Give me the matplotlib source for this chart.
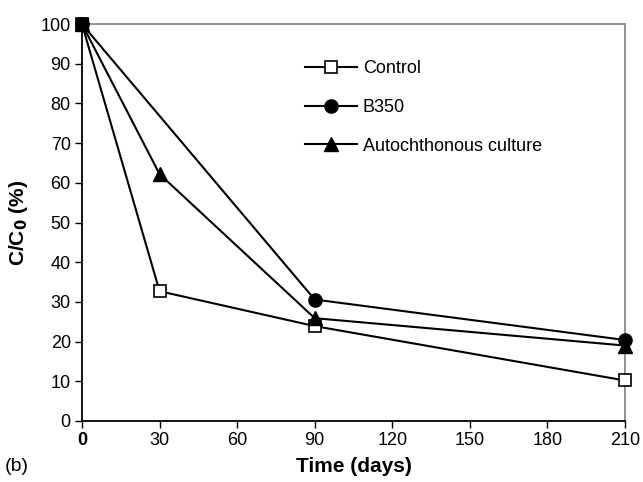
import matplotlib
matplotlib.use("Agg")
import matplotlib.pyplot as plt

plt.rcParams['font.family'] = ['Liberation Sans', 'DejaVu Sans']

days_control = [0, 30, 90, 210]
control = [100, 32.7, 23.9, 10.2]
days_b350 = [0, 90, 210]
b350 = [100, 30.6, 20.4]
days_auto = [0, 30, 90, 210]
auto = [100, 62.2, 25.9, 19.0]
xticks = [0, 30, 60, 90, 120, 150, 180, 210]
yticks = list(range(0, 101, 10))

fig = plt.figure(figsize=(6.43, 4.82), dpi=100)
ax = fig.add_axes([0.1275, 0.1266, 0.8445, 0.8234])

ax.plot(days_control, control, color='black', lw=1.5, marker='s', ms=8,
        mfc='white', mec='black', mew=1.2, label='Control', clip_on=False, zorder=3)
ax.plot(days_b350, b350, color='black', lw=1.5, marker='o', ms=9.5,
        mfc='black', mec='black', label='B350', clip_on=False, zorder=3)
ax.plot(days_auto, auto, color='black', lw=1.5, marker='^', ms=9.5,
        mfc='black', mec='black', label='Autochthonous culture', clip_on=False, zorder=3)
# filled square at origin point as seen in the reference
ax.plot([0], [100], marker='s', ms=9, color='black', clip_on=False, zorder=4)

ax.set_xlim(0, 210)
ax.set_ylim(0, 100)
ax.set_xticks(xticks)
ax.set_yticks(yticks)
ax.set_xticklabels([str(t) for t in xticks], fontsize=13)
ax.set_yticklabels([str(t) for t in yticks], fontsize=13)
ax.get_xticklabels()[0].set_fontweight('bold')
ax.tick_params(direction='out', length=5, width=1, colors='black', pad=3)

for s in ['top', 'right']:
    ax.spines[s].set_color('#888888')
    ax.spines[s].set_linewidth(1.3)
for s in ['left', 'bottom']:
    ax.spines[s].set_color('black')
    ax.spines[s].set_linewidth(1.3)

ax.set_xlabel('Time (days)', fontsize=15, fontweight='bold', labelpad=6)
ax.set_ylabel('C/C$_\\mathbf{0}$ (%)', fontsize=15, fontweight='bold', labelpad=8)

leg = ax.legend(loc='upper left', bbox_to_anchor=(0.381, 0.95), frameon=False,
                fontsize=13, handlelength=2.9, labelspacing=1.2, handletextpad=0.3)

fig.text(0.008, 0.022, '(b)', fontsize=14)

fig.savefig('out.png', dpi=100)
